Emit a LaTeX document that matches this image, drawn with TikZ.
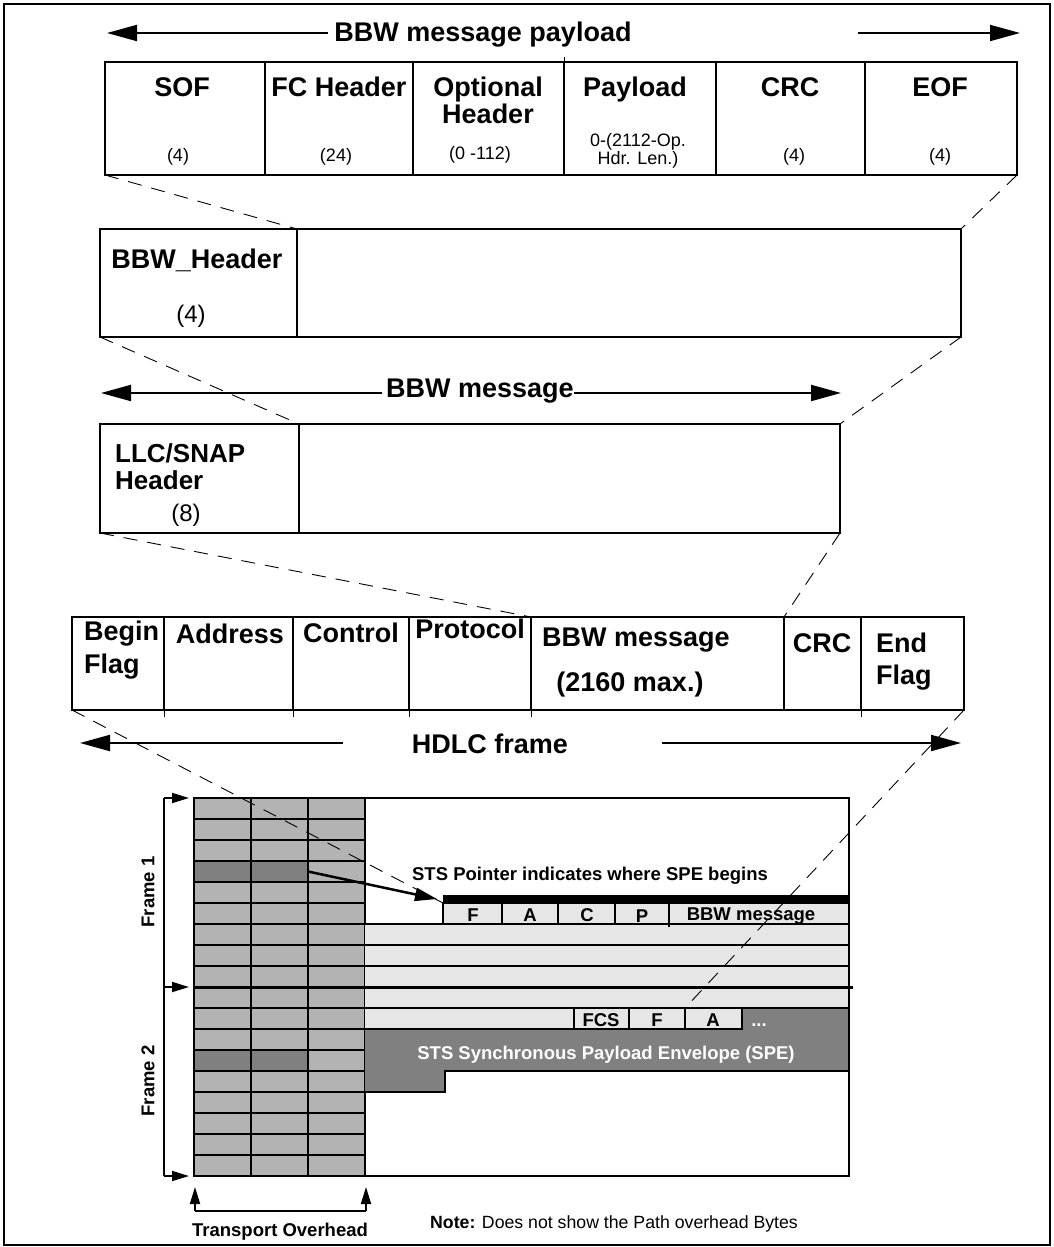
\documentclass[tikz,border=0pt]{standalone}
\usepackage{fontspec}
\setmainfont{Liberation Sans}
\usetikzlibrary{arrows.meta,fit}
\definecolor{tohgray}{RGB}{179,179,179}
\definecolor{spedark}{RGB}{128,128,128}
\definecolor{paylight}{RGB}{230,230,230}
\begin{document}
\begin{tikzpicture}[x=1pt,y=-1pt,
  cellbox/.style={draw, line width=1.6pt, inner sep=0pt, outer sep=0pt},
  gcell/.style={draw, line width=1.8pt, inner sep=0pt, outer sep=0pt},
  hd/.style={font=\fontsize{27}{30}\selectfont\bfseries, inner sep=0pt, anchor=base},
  sm/.style={font=\fontsize{18}{18}\selectfont, inner sep=0pt, anchor=base},
  mid/.style={font=\fontsize{24}{24}\selectfont, inner sep=0pt, anchor=base},
  gl/.style={font=\fontsize{18.5}{20}\selectfont\bfseries, inner sep=0pt, anchor=base},
  guide/.style={line width=0.9pt, dash pattern=on 14pt off 10pt},
  bigarrow/.style={line width=2pt, -{Triangle[length=30pt,width=16pt]}},
  smallarrow/.style={line width=1.8pt, -{Triangle[length=17pt,width=10pt]}},
  gridline/.style={line width=1.8pt},
]
\useasboundingbox (0,0) rectangle (1054,1247);
\draw[line width=1.6pt] (4,4) rectangle (1050,1245);

% ---------- BBW message payload arrow ----------
\node[hd] (ttl1) at (483,42) {BBW message payload};
\coordinate (a1s) at (328,33); \coordinate (a1t) at (107,33);
\coordinate (a1r) at (858,33); \coordinate (a1u) at (1020,33);
\draw[bigarrow] (a1s) -- (a1t);
\draw[bigarrow] (a1r) -- (a1u);

% ---------- top table ----------
\node[cellbox, fit={(105,62) (265,175)}] (sof) {};
\node[cellbox, fit={(265,62) (413,175)}] (fch) {};
\node[cellbox, fit={(413,62) (564,175)}] (opt) {};
\node[cellbox, fit={(564,62) (716,175)}] (pay) {};
\node[cellbox, fit={(716,62) (865,175)}] (crc) {};
\node[cellbox, fit={(865,62) (1017,175)}] (eof) {};
\draw[line width=1pt] (pay.north west) -- ++(0,-5);

\node[hd] (tsof) at (182,96) {SOF};
\node[hd] (tfch) at (339,96) {FC Header};
\node[hd] (topt) at (488,96) {Optional};
\node[hd] (topt2) at (488,123) {Header};
\node[hd] (tpay) at (635,96) {Payload};
\node[hd] (tcrc) at (790,96) {CRC};
\node[hd] (teof) at (940,96) {EOF};
\node[sm] (nsof) at (178,161) {(4)};
\node[sm] (nfch) at (336,161) {(24)};
\node[sm] (nopt) at (480,159) {(0 -112)};
\node[sm] (npay) at (638,146) {0-(2112-Op.};
\node[sm] (npay2) at (638,164) {Hdr. Len.)};
\node[sm] (ncrc) at (794,161) {(4)};
\node[sm] (neof) at (940,161) {(4)};

% ---------- BBW header box ----------
\node[cellbox, fit={(100,229) (297,337)}] (bhh) {};
\node[cellbox, fit={(297,229) (961,337)}] (bhr) {};
\node[hd] (tbhh) at (197,268) {BBW\_Header};
\node[mid] (nbhh) at (191,322) {(4)};

\draw[guide] (sof.south west) -- (bhh.north east);
\draw[guide] (eof.south east) -- (bhr.north east);

% ---------- BBW message arrow ----------
\node[hd] (ttl2) at (480,397) {BBW message};
\coordinate (a2s) at (382,393); \coordinate (a2t) at (101,393);
\coordinate (a2r) at (574,393); \coordinate (a2u) at (841,393);
\draw[bigarrow] (a2s) -- (a2t);
\draw[bigarrow] (a2r) -- (a2u);

% ---------- LLC/SNAP box ----------
\node[cellbox, fit={(100,424) (299,533)}] (llc) {};
\node[cellbox, fit={(299,424) (840,533)}] (llr) {};
\node[hd, anchor=base west, font=\fontsize{26}{30}\selectfont\bfseries] (tllc) at (115,462) {LLC/SNAP};
\node[hd, anchor=base west, font=\fontsize{26}{30}\selectfont\bfseries] (tllc2) at (115,489) {Header};
\node[mid] (nllc) at (186,521) {(8)};

\draw[guide] (bhh.south west) -- (llc.north east);
\draw[guide] (bhr.south east) -- (llr.north east);

% ---------- HDLC frame ----------
\node[cellbox, fit={(72,617) (164,710)}] (hbf) {};
\node[cellbox, fit={(164,617) (293,710)}] (had) {};
\node[cellbox, fit={(293,617) (409,710)}] (hct) {};
\node[cellbox, fit={(409,617) (531,710)}] (hpr) {};
\node[cellbox, fit={(531,617) (784,710)}] (hbm) {};
\node[cellbox, fit={(784,617) (861,710)}] (hcrc) {};
\node[cellbox, fit={(861,617) (964,710)}] (hef) {};
\foreach \n in {had,hct,hpr,hbm,hef} \draw[line width=1pt] (\n.south west) -- ++(0,7);

\node[hd, anchor=base west] (tbf) at (84,640) {Begin};
\node[hd, anchor=base west] (tbf2) at (84,673) {Flag};
\node[hd] (tad) at (230,643) {Address};
\node[hd] (tct) at (351,642) {Control};
\node[hd] (tpr) at (470,638) {Protocol};
\node[hd] (tbm) at (636,646) {BBW message};
\node[hd] (tbm2) at (630,691) {(2160 max.)};
\node[hd] (tcr) at (822,652) {CRC};
\node[hd, anchor=base west] (tef) at (876,652) {End};
\node[hd, anchor=base west] (tef2) at (876,684) {Flag};

\draw[guide] (llc.south west) -- (hbm.north west);
\draw[guide] (llr.south east) -- (hcrc.north west);

% ---------- HDLC frame arrow ----------
\node[hd] (ttl3) at (490,753) {HDLC frame};
\coordinate (a3s) at (343,743); \coordinate (a3t) at (80,743);
\coordinate (a3r) at (662,743); \coordinate (a3u) at (961,743);
\draw[bigarrow] (a3s) -- (a3t);
\draw[bigarrow] (a3r) -- (a3u);

% ---------- SONET frame grid ----------
\foreach \r in {0,...,17} {
  \foreach \c in {0,1,2} {
    \pgfmathsetmacro\xa{194+57*\c}
    \pgfmathsetmacro\ya{798+21*\r}
    \filldraw[gridline, fill=tohgray] (\xa,\ya) rectangle ++(57,21);
  }
}
\node[gcell, fill=spedark, fit={(194,861) (251,882)}] (h1a) {};
\node[gcell, fill=spedark, fit={(251,861) (308,882)}] (h2a) {};
\node[gcell, fill=spedark, fit={(194,1050) (251,1071)}] (h1b) {};
\node[gcell, fill=spedark, fit={(251,1050) (308,1071)}] (h2b) {};

% payload areas
\fill[paylight] (443,903) -- (849,903) -- (849,1008) -- (742,1008) -- (742,1029)
  -- (365,1029) -- (365,924) -- (443,924) -- cycle;
\fill[spedark] (742,1008) -- (849,1008) -- (849,1071) -- (445,1071) -- (445,1092)
  -- (365,1092) -- (365,1029) -- (742,1029) -- cycle;
\foreach \yy in {924,945,966,1008} \draw[gridline] (365,\yy) -- (849,\yy);
\draw[gridline] (365,1029) -- (742,1029) -- (742,1008);
\draw[gridline] (849,1071) -- (445,1071) -- (445,1092) -- (365,1092);
\draw[line width=3pt] (194,987) -- (853,987);
\fill (443,895) rectangle (849,903);

\node[gcell, fit={(443,903) (502,924)}] (cf) {};
\node[gcell, fit={(502,903) (558,924)}] (ca) {};
\node[gcell, fit={(558,903) (615,924)}] (cc) {};
\node[gcell, fit={(615,903) (669,924)}] (cp) {};
\node[gcell, fit={(669,903) (849,924)}] (cb) {};
\draw[line width=1.5pt] (cp.south east) -- ++(0,3);
\node[gcell, fit={(574,1008) (629,1029)}] (dfcs) {};
\node[gcell, fit={(629,1008) (685,1029)}] (df) {};
\node[gcell, fit={(685,1008) (742,1029)}] (da) {};

\node[gl] (tcf) at (473,921) {F};
\node[gl] (tca) at (530,921) {A};
\node[gl] (tcc) at (587,921) {C};
\node[gl] (tcp) at (642,922) {P};
\node[gl] (tcb) at (751,920) {BBW message};
\node[gl] (tdfcs) at (601,1026) {FCS};
\node[gl] (tdf) at (657,1026) {F};
\node[gl] (tda) at (713,1026) {A};
\node[gl, text=white] (tdots) at (759,1026) {...};
\node[gl, text=white] (tspe) at (606,1059) {STS Synchronous Payload Envelope (SPE)};
\node[gl] (tptr) at (590,880) {STS Pointer indicates where SPE begins};

\draw[line width=2pt] (194,798) rectangle (849,1176);

% pointer arrow
\coordinate (ptip) at (437,899);
\draw[line width=2.5pt, -{Triangle[length=22pt,width=13pt]}] (h2a.east) -- (ptip);

% dashed guides into the grid
\draw[guide] (hbf.south west) -- (cf.north west);
\draw[guide] (hef.south east) -- (da.north west);

% frame brackets
\coordinate (fb0) at (164,798); \coordinate (fb1) at (164,987); \coordinate (fb2) at (164,1176);
\coordinate (ft0) at (189,798); \coordinate (ft1) at (189,987); \coordinate (ft2) at (189,1176);
\draw[line width=1.6pt] (fb0) -- (fb2);
\draw[smallarrow] (fb0) -- (ft0);
\draw[smallarrow] (fb1) -- (ft1);
\draw[smallarrow] (fb2) -- (ft2);
\node[gl, anchor=center, rotate=90] (fr1) at (148,892) {Frame 1};
\node[gl, anchor=center, rotate=90] (fr2) at (148,1081) {Frame 2};

% transport overhead
\coordinate (to0) at (195,1211); \coordinate (to1) at (366,1211);
\coordinate (tt0) at (195,1187); \coordinate (tt1) at (366,1187);
\draw[line width=1.8pt] (to0) -- (to1);
\draw[smallarrow] (to0) -- (tt0);
\draw[smallarrow] (to1) -- (tt1);
\node[gl] (ttoh) at (280,1236) {Transport Overhead};

\node[inner sep=0pt, anchor=base west, font=\fontsize{17.7}{20}\selectfont] (note) at (430,1228)
  {\textbf{Note:} Does not show the Path overhead Bytes};
\end{tikzpicture}
\end{document}
